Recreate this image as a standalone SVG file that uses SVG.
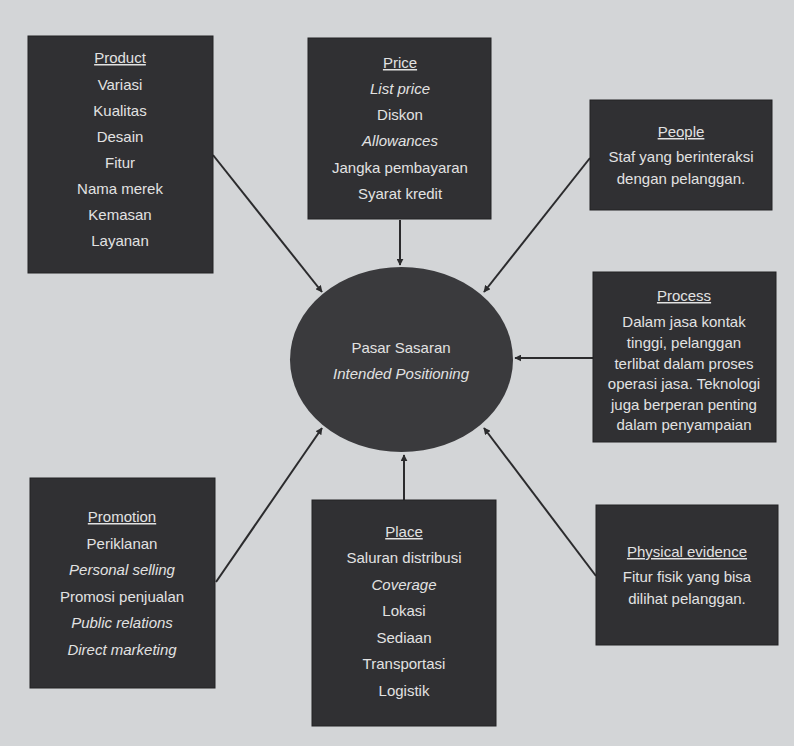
<svg xmlns="http://www.w3.org/2000/svg" width="794" height="746" viewBox="0 0 794 746">
<defs>
<marker id="ah" viewBox="0 0 10 10" refX="9" refY="5" markerWidth="7" markerHeight="7" orient="auto" markerUnits="userSpaceOnUse">
<path d="M0,0 L10,5 L0,10 z" fill="#2b2b2d"/>
</marker>
<style>
.bg{fill:#d3d5d7}
.box{fill:#303033;stroke:#222224;stroke-width:1}
.t{font-family:"Liberation Sans","DejaVu Sans",sans-serif;font-size:15px;fill:#e2e2e2;text-anchor:middle}
.h{text-decoration:underline}
.i{font-style:italic}
.c{stroke:#2b2b2d;stroke-width:2;fill:none;marker-end:url(#ah)}
</style>
</defs>
<rect class="bg" x="0" y="0" width="794" height="746"/>
<g id="connectors">
<line class="c" x1="213" y1="155" x2="322" y2="292"/>
<line class="c" x1="400" y1="220" x2="400" y2="265"/>
<line class="c" x1="590" y1="158" x2="484" y2="292"/>
<line class="c" x1="593" y1="358" x2="515" y2="358"/>
<line class="c" x1="216" y1="582" x2="322" y2="428"/>
<line class="c" x1="404" y1="500" x2="404" y2="455"/>
<line class="c" x1="596" y1="576" x2="484" y2="428"/>
</g>
<g id="center">
<ellipse cx="401.5" cy="359.5" rx="111.5" ry="92.5" fill="#3a3a3d"/>
<text class="t" x="401" y="353">Pasar Sasaran</text>
<text class="t i" x="401" y="379">Intended Positioning</text>
</g>
<g id="product">
<rect class="box" x="28" y="36" width="185" height="237"/>
<text class="t h" x="120" y="63">Product</text>
<text class="t" x="120" y="90">Variasi</text>
<text class="t" x="120" y="116">Kualitas</text>
<text class="t" x="120" y="142">Desain</text>
<text class="t" x="120" y="168">Fitur</text>
<text class="t" x="120" y="194">Nama merek</text>
<text class="t" x="120" y="220">Kemasan</text>
<text class="t" x="120" y="246">Layanan</text>
</g>
<g id="price">
<rect class="box" x="308" y="38" width="183" height="181"/>
<text class="t h" x="400" y="68">Price</text>
<text class="t i" x="400" y="94">List price</text>
<text class="t" x="400" y="120">Diskon</text>
<text class="t i" x="400" y="146">Allowances</text>
<text class="t" x="400" y="173">Jangka pembayaran</text>
<text class="t" x="400" y="199">Syarat kredit</text>
</g>
<g id="people">
<rect class="box" x="590" y="100" width="182" height="110"/>
<text class="t h" x="681" y="137">People</text>
<text class="t" x="681" y="162">Staf yang berinteraksi</text>
<text class="t" x="681" y="184">dengan pelanggan.</text>
</g>
<g id="process">
<rect class="box" x="593" y="272" width="183" height="170"/>
<text class="t h" x="684" y="301">Process</text>
<text class="t" x="684" y="327">Dalam jasa kontak</text>
<text class="t" x="684" y="348">tinggi, pelanggan</text>
<text class="t" x="684" y="369">terlibat dalam proses</text>
<text class="t" x="684" y="389">operasi jasa. Teknologi</text>
<text class="t" x="684" y="410">juga berperan penting</text>
<text class="t" x="684" y="430">dalam penyampaian</text>
</g>
<g id="promotion">
<rect class="box" x="30" y="478" width="185" height="210"/>
<text class="t h" x="122" y="522">Promotion</text>
<text class="t" x="122" y="549">Periklanan</text>
<text class="t i" x="122" y="575">Personal selling</text>
<text class="t" x="122" y="602">Promosi penjualan</text>
<text class="t i" x="122" y="628">Public relations</text>
<text class="t i" x="122" y="655">Direct marketing</text>
</g>
<g id="place">
<rect class="box" x="312" y="500" width="184" height="226"/>
<text class="t h" x="404" y="537">Place</text>
<text class="t" x="404" y="563">Saluran distribusi</text>
<text class="t i" x="404" y="590">Coverage</text>
<text class="t" x="404" y="616">Lokasi</text>
<text class="t" x="404" y="643">Sediaan</text>
<text class="t" x="404" y="669">Transportasi</text>
<text class="t" x="404" y="696">Logistik</text>
</g>
<g id="physical">
<rect class="box" x="596" y="505" width="182" height="140"/>
<text class="t h" x="687" y="557">Physical evidence</text>
<text class="t" x="687" y="582">Fitur fisik yang bisa</text>
<text class="t" x="687" y="604">dilihat pelanggan.</text>
</g>
</svg>
